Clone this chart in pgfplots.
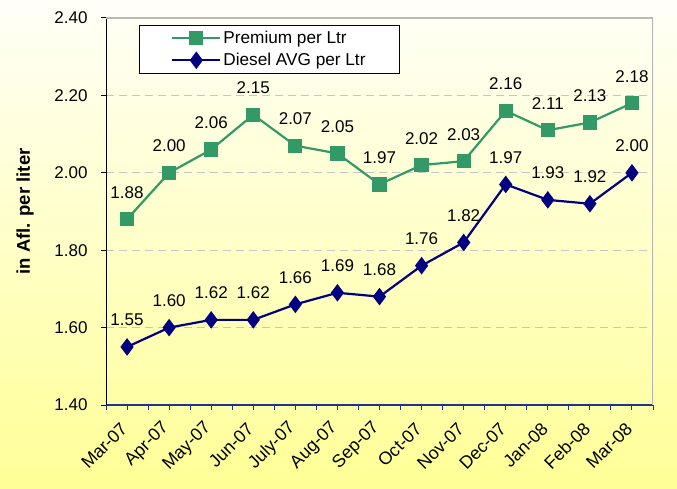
\documentclass[border=0pt]{standalone}
\usepackage{fontspec}
\setmainfont{Liberation Sans}
\usepackage{pgfplots}
\pgfplotsset{compat=1.18}

\definecolor{premium}{RGB}{51,153,102}
\definecolor{diesel}{RGB}{0,0,128}
\definecolor{bgtop}{RGB}{255,255,248}
\definecolor{bgbot}{RGB}{255,255,150}
\definecolor{xaxis}{RGB}{30,50,150}

\begin{document}
\begin{tikzpicture}
\shade[top color=bgtop, bottom color=bgbot] (0,0) rectangle (677bp,489bp);
\path[use as bounding box] (0,0) rectangle (677bp,489bp);

\begin{axis}[
    at={(106bp,84bp)}, anchor=south west,
    scale only axis,
    width=547bp, height=387bp,
    xmin=-0.5, xmax=12.5,
    ymin=1.4, ymax=2.4,
    axis x line*=bottom,
    axis y line*=left,
    x axis line style={xaxis, line width=1.4bp, -},
    y axis line style={black, line width=1bp, -},
    xtick={0,...,12},
    xticklabels={Mar-07,Apr-07,May-07,Jun-07,July-07,Aug-07,Sep-07,Oct-07,Nov-07,Dec-07,Jan-08,Feb-08,Mar-08},
    minor xtick={-0.5,0.5,...,12.5},
    x tick style={xaxis, line width=1bp},
    y tick style={black, line width=1bp},
    tick align=outside,
    major tick length=5bp,
    minor tick length=5bp,
    ytick={1.4,1.6,...,2.41},
    yticklabel style={/pgf/number format/fixed, /pgf/number format/fixed zerofill,
        /pgf/number format/precision=2, font=\fontsize{17bp}{20bp}\selectfont, xshift=-10bp},
    xticklabel style={rotate=45, anchor=east, font=\fontsize{17.8bp}{20bp}\selectfont,
        xshift=-11bp, yshift=-9bp, inner sep=2bp},
    /pgf/number format/assume math mode=true,
    ymajorgrids,
    grid style={gray!45, line width=1bp, dash pattern=on 8bp off 5bp},
    ylabel={in Afl. per liter},
    every axis y label/.style={at={(rel axis cs:0,0.5)}, xshift=-81bp, rotate=90,
        anchor=center, font=\bfseries\fontsize{18.5bp}{21bp}\selectfont},
    nodes near coords={\pgfmathprintnumber[fixed,fixed zerofill,precision=2]{\pgfplotspointmeta}},
    every node near coord/.append style={anchor=base, yshift=21bp, text=black,
        font=\fontsize{17bp}{20bp}\selectfont},
    legend style={at={(0.06,0.982)}, anchor=north west, fill=white, draw=black,
        line width=0.8bp, inner xsep=32bp, inner ysep=4bp,
        font=\fontsize{17.2bp}{20bp}\selectfont, row sep=4bp},
    legend cell align=left,
    legend image code/.code={\draw[#1, mark repeat=2, mark phase=2]
        plot coordinates {(0bp,0bp) (24bp,0bp) (48bp,0bp)};},
]

\addplot[premium, line width=2.2bp, mark=square*, mark size=6bp,
    mark options={solid, fill=premium, draw=premium}]
    coordinates {
    (0,1.88) (1,2.00) (2,2.06) (3,2.15) (4,2.07) (5,2.05) (6,1.97)
    (7,2.02) (8,2.03) (9,2.16) (10,2.11) (11,2.13) (12,2.18)
    };
\addlegendentry{Premium per Ltr}

\addplot[diesel, line width=2.2bp, mark=diamond*, mark size=7bp,
    mark options={solid, fill=diesel, draw=diesel}]
    coordinates {
    (0,1.55) (1,1.60) (2,1.62) (3,1.62) (4,1.66) (5,1.69) (6,1.68)
    (7,1.76) (8,1.82) (9,1.97) (10,1.93) (11,1.92) (12,2.00)
    };
\addlegendentry{Diesel AVG per Ltr}

\draw[gray!55, line width=1.5bp] (rel axis cs:0,1) -- (rel axis cs:1,1) -- (rel axis cs:1,0);
\end{axis}
\end{tikzpicture}
\end{document}
